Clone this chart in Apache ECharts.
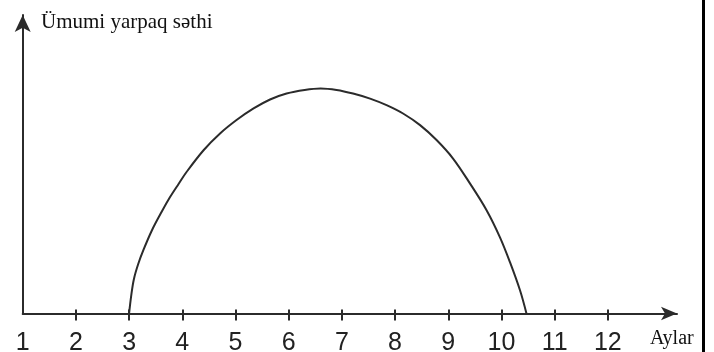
<!DOCTYPE html>
<html>
<head>
<meta charset="utf-8">
<script src="https://cdn.jsdelivr.net/npm/echarts@6/dist/echarts.min.js"></script>
<style>
  html, body { margin: 0; padding: 0; background: #fff; }
  #chart { width: 714px; height: 352px; }
</style>
</head>
<body>
<div id="chart"></div>
<script>
// Months along the horizontal axis and the leaf-area curve (relative units, 0–100)
const monthTicks = [1, 2, 3, 4, 5, 6, 7, 8, 9, 10, 11, 12];
const curveMonths = [3.0, 3.04, 3.09, 3.17, 3.27, 3.43, 3.61, 3.77, 3.93, 4.08, 4.40, 4.71, 5.02, 5.34, 5.65, 5.96, 6.30, 6.60, 6.90,
                     7.21, 7.53, 7.84, 8.15, 8.47, 8.78, 9.09, 9.41, 9.72, 9.97, 10.16, 10.35, 10.47];
const leafArea   = [0,   6.0,  11.5, 16.5, 21.3, 27.9, 34.0, 39.0, 43.4, 47.4, 54.7, 60.3, 64.8, 68.7, 71.7, 73.7, 74.9, 75.4, 74.9,
                     73.7, 72.0, 69.8, 67.0, 63.1, 58.1, 51.9, 43.5, 34.6, 25.6, 17.2,  7.7,   0];
const yTitle = 'Ümumi yarpaq səthi';
const xTitle = 'Aylar';

const inkColor = '#2b2b2b';
const tickValues = monthTicks.filter(m => m > 1);

const chart = echarts.init(document.getElementById('chart'), null, { renderer: 'canvas' });

chart.setOption({
  animation: false,
  backgroundColor: '#ffffff',
  grid: { left: 22.7, right: 37, top: 15, bottom: 38.5, outerBoundsMode: 'none', containLabel: false },
  title: {
    text: yTitle,
    left: 36,
    top: 7,
    textStyle: { fontFamily: 'Liberation Serif', fontSize: 21, fontWeight: 'normal', color: '#111' }
  },
  xAxis: [
    {
      type: 'value',
      min: 1,
      max: 13.3,
      interval: 1,
      splitLine: { show: false },
      axisLine: {
        show: true,
        symbol: ['none', 'arrow'],
        symbolSize: [10, 16],
        lineStyle: { color: inkColor, width: 2 }
      },
      axisTick: {
        show: true,
        customValues: tickValues,
        length: 7,
        lineStyle: { color: inkColor, width: 2 }
      },
      axisLabel: {
        customValues: monthTicks,
        margin: 17,
        fontFamily: 'Liberation Sans',
        fontSize: 25,
        color: '#222'
      },
      name: xTitle,
      nameLocation: 'end',
      nameGap: -27,
      nameTextStyle: {
        fontFamily: 'Liberation Serif',
        fontSize: 20,
        color: '#111',
        verticalAlign: 'top',
        padding: [15, 0, 0, 0]
      }
    },
    {
      type: 'value',
      min: 1,
      max: 13.3,
      interval: 1,
      position: 'bottom',
      splitLine: { show: false },
      axisLine: { show: false },
      axisTick: {
        show: true,
        inside: true,
        customValues: tickValues,
        length: 4,
        lineStyle: { color: inkColor, width: 2 }
      },
      axisLabel: { show: false }
    }
  ],
  yAxis: {
    type: 'value',
    min: 0,
    max: 100,
    splitLine: { show: false },
    axisTick: { show: false },
    axisLabel: { show: false },
    axisLine: {
      show: true,
      symbol: ['none', 'arrow'],
      symbolSize: [12, 17],
      lineStyle: { color: inkColor, width: 2 }
    }
  },
  graphic: [
    {
      type: 'rect',
      shape: { x: 702, y: 0, width: 3, height: 352 },
      style: { fill: '#000' }
    }
  ],
  series: [
    {
      type: 'line',
      xAxisIndex: 0,
      data: curveMonths.map((m, i) => [m, leafArea[i]]),
      smooth: 0.35,
      showSymbol: false,
      lineStyle: { color: inkColor, width: 2 }
    }
  ]
});
</script>
</body>
</html>
